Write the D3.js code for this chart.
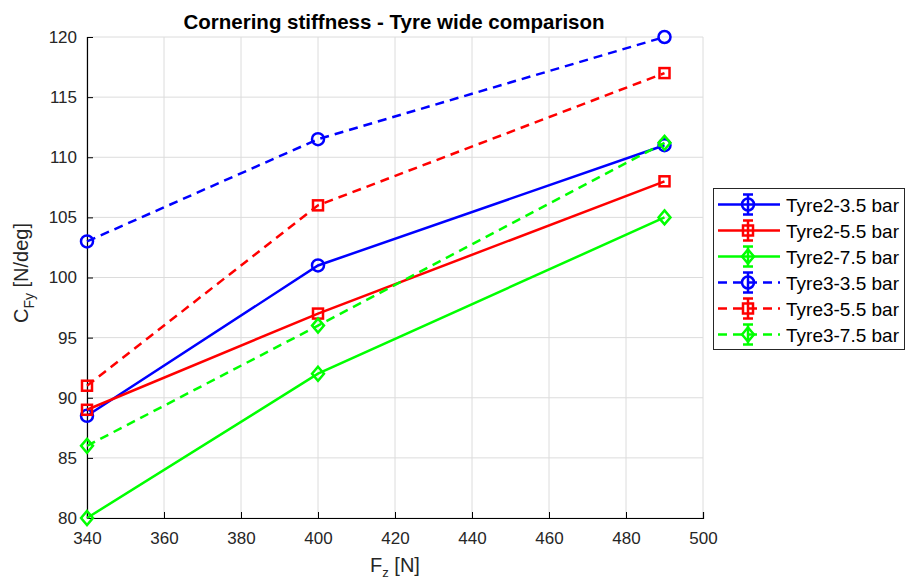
<!DOCTYPE html>
<html>
<head>
<meta charset="utf-8">
<script src="https://cdn.jsdelivr.net/npm/d3@7"></script>
<style>
  body { margin: 0; background: #fff; }
  svg { display: block; font-family: "Liberation Sans", Arial, sans-serif; }
</style>
</head>
<body>
<svg id="chart" width="909" height="581"></svg>
<script>
// Vertical load values (N)
const loads = [340, 400, 490];

// Cornering stiffness per configuration (N/deg)
const tyre2_35 = [88.5, 101, 111];
const tyre2_55 = [89, 97, 108];
const tyre2_75 = [80, 92, 105];
const tyre3_35 = [103, 111.5, 120];
const tyre3_55 = [91, 106, 117];
const tyre3_75 = [86, 96, 111.2];

const xTicks = [340, 360, 380, 400, 420, 440, 460, 480, 500];
const yTicks = [80, 85, 90, 95, 100, 105, 110, 115, 120];

const seriesList = [
  { name: "Tyre2-3.5 bar", values: tyre2_35, color: "#0000ff", marker: "circle", dashed: false },
  { name: "Tyre2-5.5 bar", values: tyre2_55, color: "#ff0000", marker: "square", dashed: false },
  { name: "Tyre2-7.5 bar", values: tyre2_75, color: "#00ff00", marker: "diamond", dashed: false },
  { name: "Tyre3-3.5 bar", values: tyre3_35, color: "#0000ff", marker: "circle", dashed: true },
  { name: "Tyre3-5.5 bar", values: tyre3_55, color: "#ff0000", marker: "square", dashed: true },
  { name: "Tyre3-7.5 bar", values: tyre3_75, color: "#00ff00", marker: "diamond", dashed: true }
];

const svg = d3.select("#chart");
const plotLeft = 87, plotRight = 703, plotTop = 37, plotBottom = 518;
const lineW = 2.5;

const x = d3.scaleLinear().domain([340, 500]).range([plotLeft, plotRight]);
const y = d3.scaleLinear().domain([80, 120]).range([plotBottom, plotTop]);

// Grid
const grid = svg.append("g");
grid.selectAll("line.gx").data(xTicks).join("line").attr("class", "gx")
  .attr("x1", d => x(d)).attr("x2", d => x(d))
  .attr("y1", plotTop).attr("y2", plotBottom)
  .attr("stroke", "#dcdcdc").attr("stroke-width", 1);
grid.selectAll("line.gy").data(yTicks).join("line").attr("class", "gy")
  .attr("x1", plotLeft).attr("x2", plotRight)
  .attr("y1", d => y(d)).attr("y2", d => y(d))
  .attr("stroke", "#dcdcdc").attr("stroke-width", 1);

// Axes with inward ticks
const xAxis = d3.axisBottom(x).tickValues(xTicks).tickSize(-6).tickPadding(14).tickFormat(d3.format("d"));
const yAxis = d3.axisLeft(y).tickValues(yTicks).tickSize(-6).tickPadding(10).tickFormat(d3.format("d"));

const gx = svg.append("g").attr("transform", `translate(0,${plotBottom})`).call(xAxis);
const gy = svg.append("g").attr("transform", `translate(${plotLeft},0)`).call(yAxis);
[gx, gy].forEach(g => {
  g.select(".domain").attr("stroke", "#000").attr("stroke-width", 1.2);
  g.selectAll(".tick line").attr("stroke", "#000");
  g.selectAll(".tick text").attr("fill", "#262626").style("font-size", "17px")
    .style("font-family", "'Liberation Sans', Arial, sans-serif");
});

// Markers
function drawMarker(g, type, cx, cy, color) {
  if (type === "circle") {
    g.append("circle").attr("cx", cx).attr("cy", cy).attr("r", 6)
      .attr("fill", "none").attr("stroke", color).attr("stroke-width", lineW);
  } else if (type === "square") {
    g.append("rect").attr("x", cx - 5).attr("y", cy - 5).attr("width", 10).attr("height", 10)
      .attr("fill", "none").attr("stroke", color).attr("stroke-width", lineW);
  } else {
    const s = 7;
    g.append("path").attr("d", `M${cx},${cy - s}L${cx + s * 0.85},${cy}L${cx},${cy + s}L${cx - s * 0.85},${cy}Z`)
      .attr("fill", "none").attr("stroke", color).attr("stroke-width", lineW);
  }
}

const line = d3.line().x((d, i) => x(loads[i])).y(d => y(d));
const plot = svg.append("g");
seriesList.forEach(s => {
  plot.append("path").datum(s.values).attr("d", line)
    .attr("fill", "none").attr("stroke", s.color).attr("stroke-width", lineW)
    .attr("stroke-dasharray", s.dashed ? "9,6" : null);
  const mg = plot.append("g");
  s.values.forEach((v, i) => drawMarker(mg, s.marker, x(loads[i]), y(v), s.color));
});

// Title
svg.append("text").attr("x", 394).attr("y", 29).attr("text-anchor", "middle")
  .style("font-size", "20.5px").style("font-weight", "bold").attr("fill", "#000")
  .text("Cornering stiffness - Tyre wide comparison");

// Axis labels
const xl = svg.append("text").attr("x", 395).attr("y", 572).attr("text-anchor", "middle")
  .style("font-size", "20px").attr("fill", "#262626");
xl.append("tspan").text("F");
xl.append("tspan").attr("dy", 5).style("font-size", "13px").text("z");
xl.append("tspan").attr("dy", -5).text(" [N]");

const yl = svg.append("text").attr("transform", `translate(28,273) rotate(-90)`)
  .attr("text-anchor", "middle").style("font-size", "20px").attr("fill", "#262626");
yl.append("tspan").text("C");
yl.append("tspan").attr("dy", 6).style("font-size", "14px").text("Fy");
yl.append("tspan").attr("dy", -6).text(" [N/deg]");

// Legend
const lg = svg.append("g");
lg.append("rect").attr("x", 713.5).attr("y", 188.5).attr("width", 191).attr("height", 161)
  .attr("fill", "#fff").attr("stroke", "#262626").attr("stroke-width", 1);
seriesList.forEach((s, i) => {
  const cy = 204.5 + i * 26;
  lg.append("line").attr("x1", 718).attr("x2", 780).attr("y1", cy).attr("y2", cy)
    .attr("stroke", s.color).attr("stroke-width", lineW)
    .attr("stroke-dasharray", s.dashed ? "9,6" : null);
  // error-bar glyph
  lg.append("line").attr("x1", 748).attr("x2", 748).attr("y1", cy - 10).attr("y2", cy + 10)
    .attr("stroke", s.color).attr("stroke-width", lineW);
  lg.append("line").attr("x1", 743).attr("x2", 753).attr("y1", cy - 10).attr("y2", cy - 10)
    .attr("stroke", s.color).attr("stroke-width", lineW);
  lg.append("line").attr("x1", 743).attr("x2", 753).attr("y1", cy + 10).attr("y2", cy + 10)
    .attr("stroke", s.color).attr("stroke-width", lineW);
  drawMarker(lg, s.marker, 748, cy, s.color);
  lg.append("text").attr("x", 786).attr("y", cy + 7)
    .style("font-size", "19px").attr("fill", "#000").text(s.name);
});
</script>
</body>
</html>
